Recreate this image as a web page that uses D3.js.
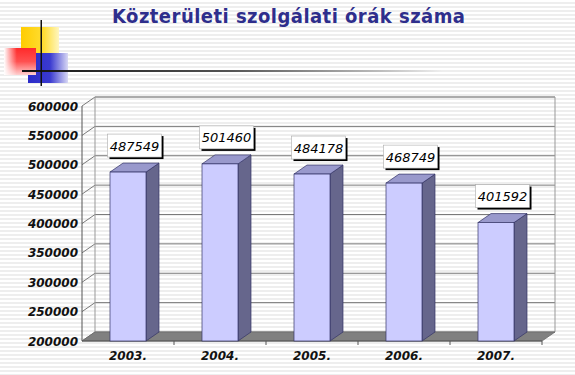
<!DOCTYPE html>
<html>
<head>
<meta charset="utf-8">
<script src="https://cdnjs.cloudflare.com/ajax/libs/d3/7.8.5/d3.min.js"></script>
<style>
  body { margin: 0; background: #fff; }
  svg { display: block; }
</style>
</head>
<body>
<svg id="chart" width="575" height="375"></svg>
<script>
const years = ["2003.", "2004.", "2005.", "2006.", "2007."];
const hours = [487549, 501460, 484178, 468749, 401592];
const yTicks = [200000, 250000, 300000, 350000, 400000, 450000, 500000, 550000, 600000];

const svg = d3.select("#chart"),
  W = +svg.attr("width"),
  H = +svg.attr("height");

const defs = svg.append("defs");

// striped slide background
const pat = defs.append("pattern")
  .attr("id", "stripes").attr("width", 4).attr("height", 4)
  .attr("patternUnits", "userSpaceOnUse");
pat.append("rect").attr("width", 4).attr("height", 4).attr("fill", "#ffffff");
pat.append("rect").attr("y", 2).attr("width", 4).attr("height", 2).attr("fill", "#eeeeee");
svg.append("rect").attr("width", W).attr("height", H).attr("fill", "url(#stripes)");

function grad(id, x2, y2, stops) {
  const g = defs.append("linearGradient").attr("id", id)
    .attr("x1", 0).attr("y1", 0).attr("x2", x2).attr("y2", y2);
  stops.forEach(s => g.append("stop").attr("offset", s[0]).attr("stop-color", s[1]));
}
grad("gYellow", 1, 0, [[0, "#ffcc00"], [0.6, "#ffdd33"], [1, "#fff6c0"]]);
grad("gRed", 0, 1, [[0, "#ff2a2a"], [0.5, "#ff5050"], [1, "#ffd0d0"]]);
grad("gRedH", 1, 0, [[0, "#ffffff"], [0.4, "rgba(255,255,255,0)"]]);
grad("gBlue", 1, 0, [[0, "#2b2bc8"], [0.55, "#3a3ad0"], [1, "#d8d8f4"]]);
grad("gLine", 1, 0, [[0, "#111111"], [0.5, "#555555"], [0.85, "#bbbbbb"], [1, "#eeeeee"]]);

// corner decoration
const deco = svg.append("g");
deco.append("rect").attr("x", 21).attr("y", 27).attr("width", 38).attr("height", 36).attr("fill", "url(#gYellow)");
deco.append("rect").attr("x", 28).attr("y", 53).attr("width", 40).attr("height", 30).attr("fill", "url(#gBlue)");
deco.append("rect").attr("x", 4).attr("y", 48).attr("width", 32).attr("height", 27).attr("fill", "url(#gRed)");
deco.append("rect").attr("x", 4).attr("y", 48).attr("width", 32).attr("height", 27).attr("fill", "url(#gRedH)");
deco.append("rect").attr("x", 22).attr("y", 70).attr("width", 420).attr("height", 2).attr("fill", "url(#gLine)");
deco.append("rect").attr("x", 40.5).attr("y", 20).attr("width", 1.5).attr("height", 66).attr("fill", "#111");

svg.append("text")
  .attr("x", 112).attr("y", 23)
  .attr("font-family", "DejaVu Sans Condensed, DejaVu Sans, sans-serif")
  .attr("font-stretch", "condensed")
  .attr("font-weight", "bold")
  .attr("font-size", 20)
  .attr("textLength", 353)
  .attr("lengthAdjust", "spacing")
  .attr("fill", "#2e2e8c")
  .text("Közterületi szolgálati órák száma");

// 3D chart geometry
const dx = 13, dy = -9;
const x = d3.scaleBand().domain(years).range([82, 542]);
const y = d3.scaleLinear().domain([200000, 600000]).range([341, 106]);
const barW = 36;

const g = svg.append("g");

// back wall gridlines
yTicks.forEach(t => {
  g.append("line")
    .attr("x1", 82 + dx).attr("x2", 542 + dx)
    .attr("y1", y(t) + dy).attr("y2", y(t) + dy)
    .attr("stroke", "#7a7a7a").attr("stroke-width", 1);
  // side wall diagonal
  g.append("line")
    .attr("x1", 82).attr("y1", y(t))
    .attr("x2", 82 + dx).attr("y2", y(t) + dy)
    .attr("stroke", "#7a7a7a").attr("stroke-width", 1);
});
// back wall frame
g.append("path")
  .attr("d", `M${82 + dx},${y(200000) + dy}V${y(600000) + dy}H${542 + dx}V${y(200000) + dy}`)
  .attr("fill", "none").attr("stroke", "#999").attr("stroke-width", 1);

// floor
g.append("path")
  .attr("d", `M82,${y(200000)}L${82 + dx},${y(200000) + dy}H${542 + dx}L542,${y(200000)}Z`)
  .attr("fill", "#808080").attr("stroke", "#6a6a6a").attr("stroke-width", 0.8);

// front axes
g.append("line").attr("x1", 82).attr("x2", 82).attr("y1", y(600000)).attr("y2", y(200000))
  .attr("stroke", "#555");
g.append("line").attr("x1", 82).attr("x2", 542).attr("y1", y(200000)).attr("y2", y(200000))
  .attr("stroke", "#555");
years.forEach((d, i) => {
  const xx = x(d) + x.step();
  g.append("line").attr("x1", xx).attr("x2", xx).attr("y1", y(200000)).attr("y2", y(200000) + 4)
    .attr("stroke", "#555");
});

// y labels
g.selectAll(".ylab").data(yTicks).enter().append("text")
  .attr("x", 78).attr("y", d => y(d) + 4.5)
  .attr("text-anchor", "end")
  .attr("font-family", "DejaVu Sans, sans-serif")
  .attr("font-weight", "bold").attr("font-style", "italic")
  .attr("font-size", 12).attr("fill", "#111")
  .text(d => d);

// x labels
g.selectAll(".xlab").data(years).enter().append("text")
  .attr("x", d => x(d) + x.bandwidth() / 2).attr("y", 360)
  .attr("text-anchor", "middle")
  .attr("font-family", "DejaVu Sans, sans-serif")
  .attr("font-weight", "bold").attr("font-style", "italic")
  .attr("font-size", 12).attr("fill", "#111")
  .text(d => d);

// bars
const data = years.map((yr, i) => ({ yr, v: hours[i] }));
const bars = g.selectAll(".bar").data(data).enter().append("g");
bars.each(function(d) {
  const b = d3.select(this);
  const x0 = x(d.yr) + (x.bandwidth() - barW) / 2, x1 = x0 + barW;
  const yt = y(d.v), yb = y(200000);
  b.append("path") // side
    .attr("d", `M${x1},${yb}L${x1 + dx},${yb + dy}V${yt + dy}L${x1},${yt}Z`)
    .attr("fill", "#66668c").attr("stroke", "#333366").attr("stroke-width", 0.7);
  b.append("path") // top
    .attr("d", `M${x0},${yt}L${x0 + dx},${yt + dy}H${x1 + dx}L${x1},${yt}Z`)
    .attr("fill", "#9999cc").attr("stroke", "#333366").attr("stroke-width", 0.7);
  b.append("rect") // front
    .attr("x", x0).attr("y", yt).attr("width", barW).attr("height", yb - yt)
    .attr("fill", "#ccccff").attr("stroke", "#333366").attr("stroke-width", 0.7);

  // value label box
  const cx = x0 + barW / 2 + dx / 2, by = yt + dy - 6;
  const bw = 54, bh = 23;
  b.append("rect")
    .attr("x", cx - bw / 2 + 2).attr("y", by - bh + 2).attr("width", bw).attr("height", bh)
    .attr("fill", "#000");
  b.append("rect")
    .attr("x", cx - bw / 2).attr("y", by - bh).attr("width", bw).attr("height", bh)
    .attr("fill", "#fff").attr("stroke", "#aaa").attr("stroke-width", 0.6);
  b.append("text")
    .attr("x", cx).attr("y", by - 6.5)
    .attr("text-anchor", "middle")
    .attr("font-family", "DejaVu Sans, sans-serif")
    .attr("font-style", "italic")
    .attr("font-size", 13).attr("fill", "#000")
    .text(d.v);
});
</script>
</body>
</html>
